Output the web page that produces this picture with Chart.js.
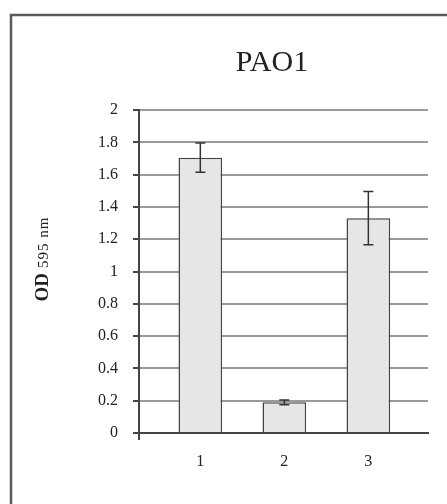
<!DOCTYPE html>
<html>
<head>
<meta charset="utf-8">
<script src="https://cdn.jsdelivr.net/npm/chart.js@4"></script>
<style>
  html, body { margin: 0; padding: 0; background: #fff; overflow: hidden; }
  canvas { display: block; }
</style>
</head>
<body>
<canvas id="odChart" width="447" height="504"></canvas>
<script>
// values
const chartTitle = 'PAO1';
const categories = [1, 2, 3];
const odValues = [1.705, 0.19, 1.33];
const odErrors = [0.09, 0.015, 0.165];
const yMin = 0;
const yMax = 2;
const yStep = 0.2;

const serif = '"Liberation Serif", "Times New Roman", serif';

// frame, title, y-axis title and error bars
const extras = {
    id: 'extras',
    beforeDraw(chart) {
        const ctx = chart.ctx;
        ctx.save();
        ctx.strokeStyle = '#5a5a5a';
        ctx.lineWidth = 2.5;
        ctx.beginPath();
        ctx.moveTo(11, 520);
        ctx.lineTo(11, 15);
        ctx.lineTo(460, 15);
        ctx.stroke();
        ctx.restore();
    },
    afterDatasetsDraw(chart) {
        const ctx = chart.ctx;
        const x = chart.scales.x;
        const y = chart.scales.y;
        ctx.save();
        ctx.strokeStyle = '#333';
        ctx.lineWidth = 1.5;
        categories.forEach((c, i) => {
            const px = x.getPixelForValue(c);
            const top = y.getPixelForValue(odValues[i] + odErrors[i]);
            const bot = y.getPixelForValue(odValues[i] - odErrors[i]);
            ctx.beginPath();
            ctx.moveTo(px, top);
            ctx.lineTo(px, bot);
            ctx.moveTo(px - 5, top);
            ctx.lineTo(px + 5, top);
            ctx.moveTo(px - 5, bot);
            ctx.lineTo(px + 5, bot);
            ctx.stroke();
        });
        // y axis runs a little below the x axis
        const area = chart.chartArea;
        ctx.strokeStyle = '#444';
        ctx.lineWidth = 2;
        ctx.beginPath();
        ctx.moveTo(area.left, area.bottom);
        ctx.lineTo(area.left, area.bottom + 7);
        ctx.stroke();

        // title
        ctx.fillStyle = '#222';
        ctx.font = '30px ' + serif;
        ctx.textAlign = 'center';
        ctx.textBaseline = 'middle';
        ctx.fillText(chartTitle, 272, 63);

        // y title: "OD" bold, "595 nm" smaller
        ctx.translate(48, 259);
        ctx.rotate(-Math.PI / 2);
        ctx.textAlign = 'left';
        ctx.textBaseline = 'alphabetic';
        ctx.font = 'bold 19px ' + serif;
        const w1 = ctx.measureText('OD').width;
        ctx.font = '15px ' + serif;
        ctx.letterSpacing = '1px';
        const w2 = ctx.measureText('595 nm').width;
        const start = -(w1 + 5 + w2) / 2;
        ctx.letterSpacing = '0px';
        ctx.font = 'bold 19px ' + serif;
        ctx.fillText('OD', start, 0);
        ctx.font = '15px ' + serif;
        ctx.letterSpacing = '1px';
        ctx.fillText('595 nm', start + w1 + 5, 0);
        ctx.restore();
    }
};

const ctx = document.getElementById('odChart').getContext('2d');
const odChart = new Chart(ctx, {
    type: 'bar',
    data: {
        datasets: [{
            data: categories.map((c, i) => ({ x: c, y: odValues[i] })),
            backgroundColor: '#e6e6e6',
            borderColor: '#444',
            borderWidth: 1.5,
            barPercentage: 0.52,
            categoryPercentage: 1
        }]
    },
    options: {
        responsive: false,
        animation: false,
        devicePixelRatio: 1,
        layout: { padding: { top: 110, right: 19, bottom: 0, left: 0 } },
        plugins: {
            legend: { display: false },
            title: { display: false },
            tooltip: { enabled: false }
        },
        scales: {
            x: {
                type: 'linear',
                min: 0.27,
                max: 3.71,
                offset: false,
                afterBuildTicks: (scale) => {
                    scale.ticks = categories.map(v => ({ value: v }));
                },
                afterFit: (scale) => { scale.height = 71; },
                grid: { display: false, drawTicks: false, offset: false },
                border: { display: true, color: '#444', width: 2 },
                ticks: {
                    padding: 19,
                    color: '#222',
                    font: { family: serif, size: 16 },
                    callback: (v) => String(v)
                }
            },
            y: {
                min: yMin,
                max: yMax,
                afterFit: (scale) => { scale.width = 139; },
                grid: { color: '#9a9a9a', lineWidth: 2, tickColor: '#444', tickLength: 6 },
                border: { color: '#444', width: 2 },
                ticks: {
                    stepSize: yStep,
                    padding: 15,
                    color: '#222',
                    font: { family: serif, size: 16 },
                    callback: (v) => String(Number(v.toFixed(1)))
                }
            }
        }
    },
    plugins: [extras]
});
</script>
</body>
</html>
